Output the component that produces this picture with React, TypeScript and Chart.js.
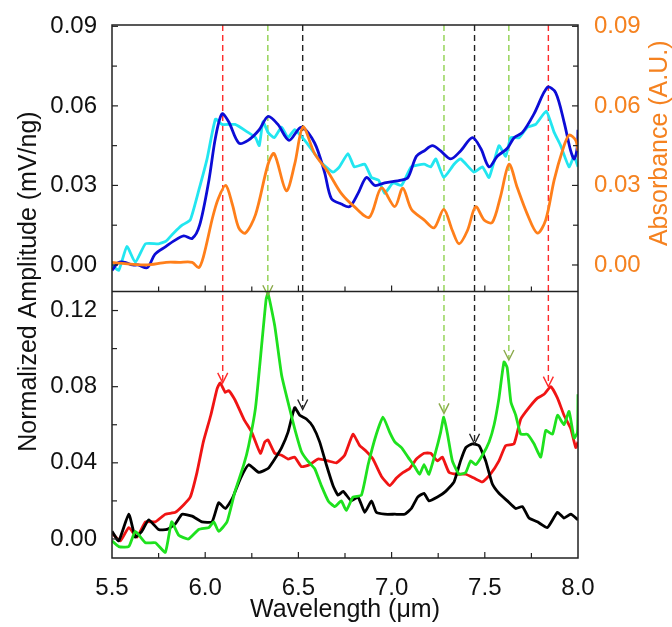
import React, { useEffect, useRef } from 'react';
import { Chart, registerables } from 'chart.js';
Chart.register(...registerables);

// ---------- data (top panel) ----------
const blueX = [5.50,5.536,5.57,5.61,5.64,5.69,5.73,5.79,5.83,5.885,5.93,5.97,6.02,6.055,6.09,6.126,6.18,6.23,6.29,6.337,6.39,6.45,6.516,6.587,6.64,6.677,6.73,6.775,6.82,6.865,6.91,6.963,7.053,7.088,7.133,7.174,7.219,7.263,7.317,7.37,7.433,7.478,7.523,7.567,7.621,7.657,7.702,7.764,7.836,7.88,7.925,7.961,7.98,7.997,8.0];
const blueY = [-0.002,0.001,0.001,0.000,0.000,-0.001,0.004,0.007,0.009,0.011,0.010,0.015,0.032,0.048,0.057,0.054,0.046,0.047,0.051,0.056,0.053,0.047,0.052,0.046,0.035,0.025,0.023,0.022,0.027,0.033,0.030,0.031,0.032,0.033,0.041,0.043,0.045,0.043,0.040,0.043,0.048,0.044,0.037,0.041,0.044,0.048,0.050,0.057,0.067,0.065,0.054,0.043,0.040,0.045,0.051];

const cyanX = [5.50,5.536,5.58,5.625,5.68,5.75,5.79,5.83,5.876,5.92,5.965,6.01,6.055,6.09,6.16,6.23,6.27,6.29,6.31,6.337,6.37,6.41,6.444,6.48,6.534,6.587,6.632,6.686,6.72,6.766,6.80,6.856,6.892,6.93,6.963,7.008,7.053,7.106,7.174,7.21,7.237,7.28,7.335,7.37,7.442,7.487,7.523,7.576,7.612,7.639,7.684,7.729,7.773,7.83,7.872,7.907,7.952,7.979,8.0];
const cyanY = [0.000,-0.002,0.007,0.001,0.008,0.008,0.009,0.012,0.015,0.017,0.028,0.040,0.055,0.053,0.053,0.050,0.048,0.045,0.054,0.050,0.048,0.052,0.048,0.051,0.047,0.042,0.038,0.035,0.037,0.042,0.037,0.038,0.033,0.032,0.027,0.031,0.030,0.037,0.038,0.037,0.040,0.033,0.038,0.040,0.035,0.037,0.033,0.045,0.041,0.048,0.048,0.052,0.053,0.058,0.050,0.045,0.037,0.041,0.037];

const orangeX = [5.50,5.68,5.79,5.86,5.93,5.965,5.99,6.04,6.07,6.11,6.145,6.18,6.215,6.27,6.337,6.37,6.435,6.48,6.525,6.587,6.66,6.73,6.80,6.88,6.945,7.017,7.06,7.106,7.174,7.228,7.28,7.326,7.362,7.407,7.451,7.496,7.54,7.585,7.63,7.675,7.729,7.782,7.827,7.872,7.916,7.952,7.988,8.0];
const orangeY = [0.001,0.000,0.001,0.001,0.001,-0.001,0.003,0.018,0.025,0.030,0.023,0.014,0.012,0.019,0.038,0.042,0.028,0.038,0.052,0.042,0.035,0.027,0.022,0.018,0.029,0.022,0.029,0.021,0.017,0.014,0.021,0.013,0.008,0.013,0.022,0.017,0.016,0.026,0.038,0.029,0.019,0.012,0.017,0.032,0.043,0.049,0.047,0.043];

// ---------- data (bottom panel) ----------
const redX = [5.50,5.545,5.59,5.634,5.68,5.733,5.786,5.84,5.885,5.92,5.956,5.99,6.03,6.064,6.08,6.108,6.126,6.16,6.207,6.25,6.296,6.32,6.337,6.373,6.41,6.444,6.48,6.516,6.56,6.605,6.66,6.704,6.748,6.793,6.829,6.865,6.90,6.945,6.99,7.026,7.062,7.097,7.133,7.174,7.21,7.246,7.272,7.308,7.353,7.398,7.442,7.487,7.53,7.576,7.612,7.657,7.693,7.737,7.782,7.818,7.854,7.89,7.925,7.961,7.988,8.0];
const redY = [0.003,-0.001,0.006,0.001,0.009,0.009,0.013,0.014,0.018,0.022,0.035,0.051,0.065,0.079,0.082,0.077,0.078,0.073,0.063,0.056,0.045,0.051,0.052,0.045,0.044,0.042,0.043,0.038,0.039,0.042,0.041,0.040,0.044,0.055,0.049,0.046,0.042,0.033,0.028,0.032,0.035,0.037,0.042,0.045,0.045,0.041,0.043,0.035,0.034,0.034,0.032,0.030,0.034,0.041,0.049,0.050,0.063,0.069,0.074,0.076,0.080,0.074,0.065,0.058,0.048,0.051];

const greenX = [5.50,5.536,5.59,5.625,5.68,5.733,5.786,5.82,5.858,5.91,5.965,6.02,6.046,6.072,6.117,6.16,6.207,6.233,6.27,6.305,6.327,6.337,6.373,6.41,6.444,6.48,6.516,6.55,6.587,6.623,6.66,6.695,6.73,6.757,6.793,6.838,6.874,6.918,6.954,6.99,7.017,7.053,7.088,7.124,7.15,7.174,7.20,7.237,7.263,7.28,7.30,7.326,7.362,7.398,7.424,7.451,7.487,7.523,7.55,7.576,7.603,7.62,7.64,7.666,7.693,7.729,7.764,7.80,7.827,7.863,7.89,7.925,7.952,7.979,7.997,8.0];
const greenY = [-0.001,-0.004,-0.004,0.004,-0.002,-0.002,-0.007,0.009,0.002,0.000,0.005,0.006,0.009,0.004,0.009,0.025,0.039,0.049,0.069,0.104,0.126,0.129,0.112,0.086,0.072,0.058,0.046,0.041,0.037,0.028,0.020,0.017,0.020,0.015,0.022,0.023,0.039,0.055,0.064,0.056,0.051,0.048,0.043,0.038,0.034,0.039,0.034,0.046,0.056,0.064,0.055,0.041,0.034,0.035,0.041,0.039,0.044,0.051,0.060,0.074,0.093,0.090,0.072,0.065,0.055,0.055,0.050,0.043,0.057,0.055,0.065,0.060,0.067,0.053,0.056,0.076];

const blackX = [5.50,5.536,5.59,5.625,5.66,5.697,5.75,5.795,5.84,5.876,5.93,5.983,6.037,6.072,6.108,6.144,6.19,6.233,6.287,6.337,6.373,6.41,6.444,6.48,6.507,6.543,6.578,6.614,6.65,6.686,6.713,6.74,6.784,6.82,6.856,6.892,6.918,6.963,7.017,7.07,7.106,7.14,7.174,7.20,7.246,7.29,7.335,7.37,7.398,7.433,7.469,7.505,7.54,7.576,7.621,7.666,7.702,7.737,7.782,7.836,7.89,7.925,7.961,8.0];
const blackY = [0.004,-0.001,0.013,0.001,0.004,0.010,0.005,0.005,0.008,0.013,0.012,0.009,0.009,0.019,0.016,0.021,0.032,0.039,0.035,0.037,0.042,0.048,0.056,0.069,0.065,0.063,0.059,0.051,0.039,0.028,0.023,0.025,0.020,0.022,0.014,0.020,0.014,0.013,0.013,0.013,0.016,0.022,0.024,0.020,0.022,0.025,0.030,0.041,0.048,0.050,0.049,0.041,0.029,0.024,0.020,0.016,0.017,0.011,0.009,0.006,0.014,0.011,0.013,0.010];

// ---------- arrows ----------
const arrowX = [6.094, 6.336, 6.523, 7.281, 7.445, 7.629, 7.841];
const arrowTip = [0.082, 0.128, 0.068, 0.066, 0.050, 0.094, 0.080];
const arrowLineColors = ['#ff2a2a', '#8fd14f', '#222222', '#8fd14f', '#222222', '#8fd14f', '#ff2a2a'];
const arrowHeadColors = ['#ff2a2a', '#8aa94a', '#222222', '#8aa94a', '#222222', '#8aa94a', '#ff2a2a'];

// ---------- ticks ----------
const xMajorTicks = [5.5, 6.0, 6.5, 7.0, 7.5, 8.0];
const xMinorTicks = [5.75, 6.0, 6.25, 6.5, 6.75, 7.0, 7.25, 7.5, 7.75];
const topMajorTicks = [0, 0.03, 0.06, 0.09];
const topMinorTicks = [0.015, 0.045, 0.075];
const botMajorTicks = [0, 0.04, 0.08, 0.12];
const botMinorTicks = [0.02, 0.06, 0.10];

const FONT = 'Liberation Sans';
const ORANGE_LABEL = '#f58220';

const pts = (xs: number[], ys: number[]) => xs.map((x, i) => ({ x, y: ys[i] }));

const decor = {
  id: 'decor',
  beforeDatasetsDraw(chart: any) {
    const { ctx, chartArea: a, scales } = chart;
    const x = scales.x, yB = scales.yBot;
    ctx.save();
    ctx.lineWidth = 1.4;
    ctx.setLineDash([6, 4]);
    arrowX.forEach((ax, i) => {
      const px = x.getPixelForValue(ax);
      ctx.strokeStyle = arrowLineColors[i];
      ctx.beginPath();
      ctx.moveTo(px, a.top);
      ctx.lineTo(px, yB.getPixelForValue(arrowTip[i]) - 2);
      ctx.stroke();
    });
    ctx.restore();
  },
  afterDatasetsDraw(chart: any) {
    const { ctx, chartArea: a, scales } = chart;
    const x = scales.x, yB = scales.yBot, yT = scales.yTop, yA = scales.yAbs;
    ctx.save();
    // arrowheads
    ctx.lineWidth = 1.4;
    arrowX.forEach((ax, i) => {
      const px = x.getPixelForValue(ax);
      const py = yB.getPixelForValue(arrowTip[i]);
      ctx.strokeStyle = arrowHeadColors[i];
      ctx.beginPath();
      ctx.moveTo(px - 5, py - 10);
      ctx.lineTo(px, py);
      ctx.lineTo(px + 5, py - 10);
      ctx.stroke();
    });
    // frame
    ctx.strokeStyle = '#222';
    ctx.lineWidth = 1.5;
    ctx.strokeRect(a.left, a.top, a.right - a.left, a.bottom - a.top);
    const mid = yT.bottom;
    ctx.beginPath();
    ctx.moveTo(a.left, mid);
    ctx.lineTo(a.right, mid);
    ctx.stroke();
    // inward ticks
    ctx.lineWidth = 1.2;
    const tick = (x0: number, y0: number, x1: number, y1: number) => {
      ctx.beginPath(); ctx.moveTo(x0, y0); ctx.lineTo(x1, y1); ctx.stroke();
    };
    xMinorTicks.forEach((v) => {
      const px = x.getPixelForValue(v);
      const len = xMajorTicks.includes(v) ? 6 : 5;
      tick(px, mid, px, mid - len);
      tick(px, a.bottom, px, a.bottom - len);
    });
    topMajorTicks.forEach((v) => {
      const py = yT.getPixelForValue(v);
      tick(a.left, py, a.left + 6, py);
      const pa = yA.getPixelForValue(v);
      tick(a.right, pa, a.right - 6, pa);
    });
    topMinorTicks.forEach((v) => {
      const py = yT.getPixelForValue(v);
      tick(a.left, py, a.left + 5, py);
      const pa = yA.getPixelForValue(v);
      tick(a.right, pa, a.right - 5, pa);
    });
    botMajorTicks.forEach((v) => {
      const py = yB.getPixelForValue(v);
      tick(a.left, py, a.left + 6, py);
    });
    botMinorTicks.forEach((v) => {
      const py = yB.getPixelForValue(v);
      tick(a.left, py, a.left + 5, py);
    });
    // titles
    ctx.font = `25px "${FONT}"`;
    ctx.textAlign = 'center';
    ctx.textBaseline = 'middle';
    ctx.fillStyle = '#111';
    ctx.fillText('Wavelength (\u03bcm)', (a.left + a.right) / 2, a.bottom + 52);
    ctx.save();
    ctx.translate(29, (a.top + a.bottom) / 2 - 10);
    ctx.rotate(-Math.PI / 2);
    ctx.fillText('Normalized Amplitude (mV/ng)', 0, 0);
    ctx.restore();
    ctx.save();
    ctx.fillStyle = ORANGE_LABEL;
    ctx.translate(660, (yA.top + yA.bottom) / 2 - 15);
    ctx.rotate(-Math.PI / 2);
    ctx.fillText('Absorbance (A.U.)', 0, 0);
    ctx.restore();
    ctx.restore();
  },
};

export default function App() {
  const ref = useRef<HTMLCanvasElement | null>(null);
  useEffect(() => {
    if (!ref.current) return;
    const tickFont = { family: FONT, size: 24 };
    const line = (label: string, xs: number[], ys: number[], color: string, axis: string, order: number, tension: number) => ({
      label,
      data: pts(xs, ys),
      xAxisID: 'x',
      yAxisID: axis,
      borderColor: color,
      backgroundColor: color,
      borderWidth: 2.8,
      pointRadius: 0,
      tension,
      fill: false,
      borderJoinStyle: 'round' as const,
      order,
    });
    const chart = new Chart(ref.current, {
      type: 'line',
      data: {
        datasets: [
          line('Absorbance', orangeX, orangeY, '#ff7f1a', 'yAbs', 1, 0.3),
          line('Blue', blueX, blueY, '#0c0cd6', 'yTop', 2, 0.3),
          line('Cyan', cyanX, cyanY, '#22e6f0', 'yTop', 3, 0.15),
          line('Green', greenX, greenY, '#1ee11e', 'yBot', 4, 0.15),
          line('Black', blackX, blackY, '#000000', 'yBot', 5, 0.15),
          line('Red', redX, redY, '#f01414', 'yBot', 6, 0.15),
        ],
      },
      options: {
        responsive: false,
        animation: false,
        events: [],
        layout: { padding: { top: 25, left: 0, right: 0, bottom: 0 } },
        plugins: { legend: { display: false }, tooltip: { enabled: false } },
        scales: {
          x: {
            type: 'linear',
            position: 'bottom',
            min: 5.5,
            max: 8.0,
            afterBuildTicks: (s: any) => { s.ticks = xMajorTicks.map((v) => ({ value: v })); },
            afterFit: (s: any) => { s.height = 69; },
            ticks: { font: tickFont, color: '#111', padding: 8, maxRotation: 0, autoSkip: false, callback: (v: any) => Number(v).toFixed(1) },
            grid: { display: false },
            border: { display: false },
          },
          yBot: {
            type: 'linear',
            position: 'left',
            stack: 'L',
            stackWeight: 1,
            min: -0.01,
            max: 0.13,
            afterBuildTicks: (s: any) => { s.ticks = botMajorTicks.map((v) => ({ value: v })); },
            afterFit: (s: any) => { s.width = 112; },
            ticks: { font: tickFont, color: '#111', padding: 7, callback: (v: any) => Number(v).toFixed(2) },
            grid: { display: false },
            border: { display: false },
          },
          yTop: {
            type: 'linear',
            position: 'left',
            stack: 'L',
            stackWeight: 1,
            min: -0.01,
            max: 0.0905,
            afterBuildTicks: (s: any) => { s.ticks = topMajorTicks.map((v) => ({ value: v })); },
            afterFit: (s: any) => { s.width = 112; },
            ticks: { font: tickFont, color: '#111', padding: 7, callback: (v: any) => Number(v).toFixed(2) },
            grid: { display: false },
            border: { display: false },
          },
          yAbs: {
            type: 'linear',
            position: 'right',
            stack: 'R',
            stackWeight: 1,
            min: -0.01,
            max: 0.0905,
            afterBuildTicks: (s: any) => { s.ticks = topMajorTicks.map((v) => ({ value: v })); },
            afterFit: (s: any) => { s.width = 94; },
            ticks: { font: tickFont, color: ORANGE_LABEL, padding: 8, callback: (v: any) => Number(v).toFixed(2) },
            grid: { display: false },
            border: { display: false },
          },
          yR2: {
            type: 'linear',
            position: 'right',
            stack: 'R',
            stackWeight: 1,
            min: 0,
            max: 1,
            afterFit: (s: any) => { s.width = 94; },
            ticks: { display: false },
            grid: { display: false },
            border: { display: false },
          },
        },
      },
      plugins: [decor],
    } as any);
    return () => chart.destroy();
  }, []);
  return (
    <div style={{ position: 'absolute', left: 0, top: 0, width: 672, height: 627, background: '#fff' }}>
      <canvas ref={ref} width={672} height={627} style={{ display: 'block', width: 672, height: 627 }} />
    </div>
  );
}
